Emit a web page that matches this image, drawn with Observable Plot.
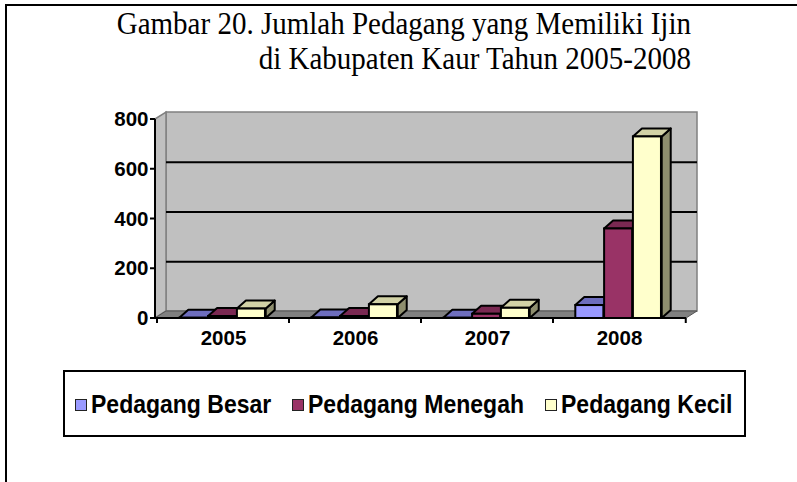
<!DOCTYPE html>
<html><head><meta charset="utf-8">
<script src="https://cdn.jsdelivr.net/npm/d3@7"></script>
<script src="https://cdn.jsdelivr.net/npm/@observablehq/plot@0.6"></script>
<style>
body{margin:0;background:#fff;}
#wrap{position:relative;width:797px;height:482px;overflow:hidden;background:#fff;}
#frame{position:absolute;left:5px;top:4px;width:820px;height:500px;border-top:2px solid #000;border-left:2px solid #000;}
#title{position:absolute;right:106px;top:5px;text-align:right;font-family:"Liberation Serif","Times New Roman",serif;font-size:29px;line-height:32px;color:#000;white-space:nowrap;transform:scaleY(1.1);transform-origin:top right;}
#chart{position:absolute;left:0;top:0;}
#legend{position:absolute;left:63px;top:370px;width:683px;height:67px;border:2px solid #000;box-sizing:border-box;font-family:"Liberation Sans",Arial,sans-serif;font-weight:bold;font-size:23px;color:#000;}
.item{position:absolute;top:1px;height:63px;display:flex;align-items:center;white-space:nowrap;}
.sw{width:10px;height:10px;border:1.5px solid #222;margin-right:4px;}
.tx{display:inline-block;transform:scaleY(1.12);}
</style></head>
<body>
<div id="wrap">
  <div id="frame"></div>
  <div id="chart"></div>
  <div id="title">Gambar 20. Jumlah Pedagang yang Memiliki Ijin<br>di Kabupaten Kaur Tahun 2005-2008</div>
  <div id="legend"></div>
</div>
<script>
// ---- data ----
const years = ["2005", "2006", "2007", "2008"];
const seriesNames = ["Pedagang Besar", "Pedagang Menegah", "Pedagang Kecil"];
const besar = [1, 2, 1, 52];
const menegah = [8, 8, 17, 360];
const kecil = [38, 55, 41, 730];
const yTicks = [0, 200, 400, 600, 800];

// ---- styling / layout ----
const seriesValues = [besar, menegah, kecil];
const frontColors = ["#9999FF", "#993366", "#FFFFCC"];
const topColors = ["#6E6EBE", "#7A2952", "#D2D2A6"];
const sideColors = ["#5A5AA0", "#5E1F3F", "#8E8E6E"];
const W = 797, H = 360, ML = 155, MR = 111, MT = 119, MB = 42;
const bw = (W - ML - MR) / years.length;
const barStart = 0.168, barW = 0.217;
const DX = 9, DY = 8;      // bar depth
const WX = 11, WY = 7;     // wall depth

function pickScales(args) {
  for (const a of args) if (a && typeof a.x === "function" && typeof a.y === "function") return a;
  return args[1];
}

function walls() {
  const s = pickScales(arguments);
  const x0 = ML, x1 = W - MR;
  const yt = s.y(800), yb = s.y(0);
  const g = d3.create("svg:g");
  g.append("path").attr("fill", "#C0C0C0").attr("stroke", "#808080").attr("stroke-width", 1.5)
    .attr("d", `M${x0+WX},${yt-WY}L${x1+WX},${yt-WY}L${x1+WX},${yb-WY}L${x0+WX},${yb-WY}Z`);
  g.append("path").attr("fill", "#C0C0C0").attr("stroke", "#808080").attr("stroke-width", 1.5)
    .attr("d", `M${x0},${yt}L${x0+WX},${yt-WY}L${x0+WX},${yb-WY}L${x0},${yb}Z`);
  g.append("path").attr("fill", "#808080").attr("stroke", "#555").attr("stroke-width", 1)
    .attr("d", `M${x0},${yb}L${x0+WX},${yb-WY}L${x1+WX},${yb-WY}L${x1},${yb}Z`);
  return g.node();
}

function barFaces() {
  const s = pickScales(arguments);
  const g = d3.create("svg:g").attr("stroke", "#000").attr("stroke-width", 2).attr("stroke-linejoin", "round");
  years.forEach((yr, j) => {
    seriesValues.forEach((vals, i) => {
      const x0 = s.x(yr) + bw * (barStart + i * barW), x1 = x0 + bw * barW;
      const y0 = s.y(0), y1 = s.y(vals[j]);
      g.append("path").attr("fill", sideColors[i])
        .attr("d", `M${x1},${y1}L${x1+DX},${y1-DY}L${x1+DX},${y0-DY}L${x1},${y0}Z`);
      g.append("path").attr("fill", topColors[i])
        .attr("d", `M${x0},${y1}L${x0+DX},${y1-DY}L${x1+DX},${y1-DY}L${x1},${y1}Z`);
    });
  });
  return g.node();
}

function axesLines() {
  const s = pickScales(arguments);
  const g = d3.create("svg:g").attr("stroke", "#000").attr("stroke-width", 2);
  const yb = s.y(0), yt = s.y(800);
  g.append("line").attr("x1", ML).attr("x2", ML).attr("y1", yt).attr("y2", yb + 1);
  for (const t of yTicks) g.append("line").attr("x1", ML - 5).attr("x2", ML).attr("y1", s.y(t)).attr("y2", s.y(t));
  g.append("line").attr("x1", ML - 1).attr("x2", W - MR).attr("y1", yb).attr("y2", yb);
  const edges = years.map(yr => s.x(yr)).concat([s.x(years[years.length - 1]) + bw]);
  for (const e of edges) g.append("line").attr("x1", e).attr("x2", e).attr("y1", yb).attr("y2", yb + 5);
  return g.node();
}

const frontMarks = seriesValues.map((vals, i) =>
  Plot.barY(years.map((yr, j) => ({year: yr, value: vals[j], series: seriesNames[i]})), {
    x: "year", y: "value", fill: frontColors[i], stroke: "#000", strokeWidth: 2,
    insetLeft: bw * (barStart + i * barW),
    insetRight: bw * (1 - barStart - (i + 1) * barW)
  })
);

const chart = Plot.plot({
  width: W, height: H,
  marginLeft: ML, marginRight: MR, marginTop: MT, marginBottom: MB,
  style: {fontFamily: "'Liberation Sans', Arial, sans-serif", fontSize: "20.5px", fontWeight: "bold", color: "#000", background: "transparent", overflow: "visible"},
  x: {domain: years, padding: 0, tickSize: 0, tickPadding: 12, label: null},
  y: {domain: [0, 800], ticks: yTicks, tickSize: 0, tickPadding: 7, label: null},
  marks: [
    walls,
    Plot.ruleY([200, 400, 600], {dx: WX, dy: -WY, stroke: "#000", strokeWidth: 2}),
    barFaces,
    ...frontMarks,
    axesLines
  ]
});
document.getElementById("chart").appendChild(chart);

// legend
const legend = document.getElementById("legend");
const itemLefts = [10, 227, 480];
seriesNames.forEach((name, i) => {
  const it = document.createElement("div");
  it.className = "item";
  it.style.left = itemLefts[i] + "px";
  const sw = document.createElement("span");
  sw.className = "sw";
  sw.style.background = frontColors[i];
  const tx = document.createElement("span");
  tx.className = "tx";
  tx.textContent = name;
  it.appendChild(sw); it.appendChild(tx);
  legend.appendChild(it);
});
</script>
</body></html>
